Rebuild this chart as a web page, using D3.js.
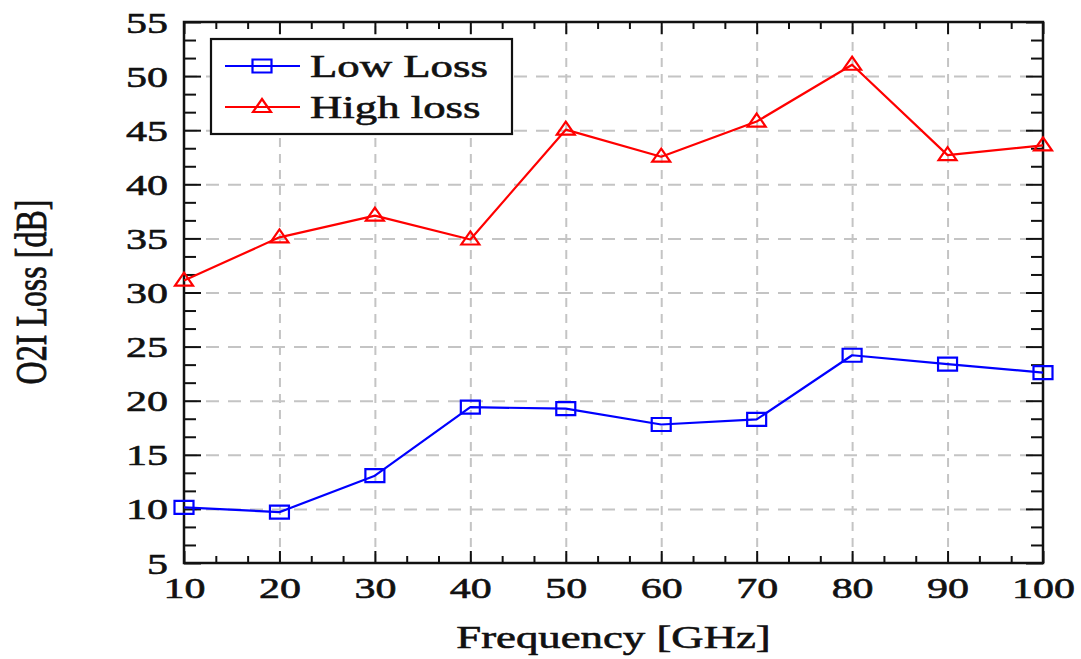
<!DOCTYPE html>
<html>
<head>
<meta charset="utf-8">
<script src="https://cdn.jsdelivr.net/npm/d3@7"></script>
<style>
  html, body { margin: 0; padding: 0; background: #fff; }
  svg { display: block; }
  text { font-family: "Liberation Serif", "DejaVu Serif", serif; fill: #111; stroke: #111; stroke-width: 0.6px; }
</style>
</head>
<body>
<svg id="chart" width="1081" height="659"></svg>
<script>
// Frequency points (GHz) and measured O2I loss (dB)
const frequencies = [10, 20, 30, 40, 50, 60, 70, 80, 90, 100];
const lowLoss  = [10.15, 9.7, 13.07, 19.4, 19.27, 17.8, 18.27, 24.2, 23.38, 22.6];
const highLoss = [31.1, 35.1, 37.1, 34.9, 45.05, 42.55, 45.8, 51.05, 42.7, 43.6];
const xTickValues = [10, 20, 30, 40, 50, 60, 70, 80, 90, 100];
const yTickValues = [5, 10, 15, 20, 25, 30, 35, 40, 45, 50, 55];
const seriesNames = ["Low Loss", "High loss"];
const xTitle = "Frequency [GHz]";
const yTitle = "O2I Loss [dB]";

const SX = 1.4; // horizontal stretch applied to glyphs and markers

const svg = d3.select("#chart");
const W = 1081, H = 659;
const plot = { left: 184, right: 1043, top: 22, bottom: 563 };

const x = d3.scaleLinear().domain([10, 100]).range([plot.left, plot.right]);
const y = d3.scaleLinear().domain([5, 55]).range([plot.bottom, plot.top]);

svg.append("rect").attr("width", W).attr("height", H).attr("fill", "#fff");

// dashed grid at major ticks
const gridColor = "#c4c4c4";
svg.append("g")
  .attr("transform", `translate(0,${plot.bottom})`)
  .call(d3.axisBottom(x).tickValues(xTickValues.slice(1, -1)).tickSize(-(plot.bottom - plot.top)).tickFormat(""))
  .call(g => g.select(".domain").remove())
  .call(g => g.selectAll("line").attr("stroke", gridColor).attr("stroke-width", 2).attr("stroke-dasharray", "9,7"));
svg.append("g")
  .attr("transform", `translate(${plot.left},0)`)
  .call(d3.axisLeft(y).tickValues(yTickValues.slice(1, -1)).tickSize(-(plot.right - plot.left)).tickFormat(""))
  .call(g => g.select(".domain").remove())
  .call(g => g.selectAll("line").attr("stroke", gridColor).attr("stroke-width", 2).attr("stroke-dasharray", "13,9"));

// minor tick positions (three subdivisions per major step)
const xMinor = d3.range(0, 28).map(i => 10 + i * 10 / 3).filter((v, i) => i % 3 !== 0);
const yMinor = d3.range(0, 31).map(i => 5 + i * 5 / 3).filter((v, i) => i % 3 !== 0);

function tickLayer(axisGen, tx, ty) {
  return svg.append("g")
    .attr("transform", `translate(${tx},${ty})`)
    .call(axisGen)
    .call(g => g.select(".domain").remove())
    .call(g => g.selectAll("line").attr("stroke", "#111").attr("stroke-width", 2));
}

// inward ticks on all four sides
tickLayer(d3.axisBottom(x).tickValues(xTickValues).tickSize(-12).tickFormat(""), 0, plot.bottom);
tickLayer(d3.axisBottom(x).tickValues(xMinor).tickSize(-7).tickFormat(""), 0, plot.bottom);
tickLayer(d3.axisTop(x).tickValues(xTickValues).tickSize(-12).tickFormat(""), 0, plot.top);
tickLayer(d3.axisTop(x).tickValues(xMinor).tickSize(-7).tickFormat(""), 0, plot.top);
tickLayer(d3.axisLeft(y).tickValues(yTickValues).tickSize(-17).tickFormat(""), plot.left, 0);
tickLayer(d3.axisLeft(y).tickValues(yMinor).tickSize(-12).tickFormat(""), plot.left, 0);
tickLayer(d3.axisRight(y).tickValues(yTickValues).tickSize(-17).tickFormat(""), plot.right, 0);
tickLayer(d3.axisRight(y).tickValues(yMinor).tickSize(-12).tickFormat(""), plot.right, 0);

// frame
svg.append("rect")
  .attr("x", plot.left).attr("y", plot.top)
  .attr("width", plot.right - plot.left).attr("height", plot.bottom - plot.top)
  .attr("fill", "none").attr("stroke", "#111").attr("stroke-width", 2.5);

// tick labels
const xLab = svg.append("g")
  .attr("transform", `translate(0,${plot.bottom})`)
  .call(d3.axisBottom(x).tickValues(xTickValues).tickSize(0).tickPadding(0))
  .call(g => g.select(".domain").remove());
xLab.selectAll("text")
  .attr("y", 0).attr("dy", null)
  .attr("transform", `translate(0,35) scale(${SX},1)`)
  .attr("font-size", 30).attr("fill", "#111")
  .style("font-family", '"Liberation Serif", serif');

const yLab = svg.append("g")
  .attr("transform", `translate(${plot.left},0)`)
  .call(d3.axisLeft(y).tickValues(yTickValues).tickSize(0).tickPadding(0))
  .call(g => g.select(".domain").remove());
yLab.selectAll("text")
  .attr("x", 0).attr("dy", null).attr("y", 0)
  .attr("transform", `translate(-16,10) scale(${SX},1)`)
  .attr("font-size", 30).attr("fill", "#111")
  .style("font-family", '"Liberation Serif", serif');

// axis titles
svg.append("text")
  .attr("transform", `translate(${(plot.left + plot.right) / 2},648) scale(${SX},1)`)
  .attr("text-anchor", "middle").attr("font-size", 32)
  .text(xTitle);
svg.append("text")
  .attr("transform", `translate(46,292) scale(${SX},1) rotate(-90)`)
  .attr("text-anchor", "middle").attr("font-size", 32)
  .text(yTitle);

// marker shapes (stretched horizontally like the glyphs)
function squarePath(cx, cy) {
  const hw = 9.5, hh = 6.5;
  return `M${cx - hw},${cy - hh}H${cx + hw}V${cy + hh}H${cx - hw}Z`;
}
function trianglePath(cx, cy) {
  const hw = 9, up = 8, dn = 5;
  return `M${cx},${cy - up}L${cx + hw},${cy + dn}L${cx - hw},${cy + dn}Z`;
}

const line = d3.line().x(d => x(d[0])).y(d => y(d[1]));
const series = [
  { name: seriesNames[0], values: lowLoss, color: "#0000ff", marker: squarePath },
  { name: seriesNames[1], values: highLoss, color: "#ff0000", marker: trianglePath }
];

series.forEach(s => {
  const pts = frequencies.map((f, i) => [f, s.values[i]]);
  svg.append("path")
    .attr("d", line(pts))
    .attr("fill", "none").attr("stroke", s.color).attr("stroke-width", 2.2)
    .attr("stroke-linejoin", "round");
  svg.append("g").selectAll("path")
    .data(pts).join("path")
    .attr("d", d => s.marker(x(d[0]), y(d[1])))
    .attr("fill", "none").attr("stroke", s.color).attr("stroke-width", 2.2);
});

// legend
const lg = svg.append("g");
lg.append("rect")
  .attr("x", 211).attr("y", 39).attr("width", 301).attr("height", 95)
  .attr("fill", "#fff").attr("stroke", "#111").attr("stroke-width", 2.2);
series.forEach((s, i) => {
  const ry = 66 + i * 41;
  lg.append("line")
    .attr("x1", 225).attr("x2", 300).attr("y1", ry).attr("y2", ry)
    .attr("stroke", s.color).attr("stroke-width", 2.2);
  lg.append("path")
    .attr("d", s.marker(262, ry))
    .attr("fill", "none").attr("stroke", s.color).attr("stroke-width", 2.2);
  lg.append("text")
    .attr("transform", `translate(310,${ry + 11}) scale(${SX},1)`)
    .attr("font-size", 32)
    .text(s.name);
});
</script>
</body>
</html>
